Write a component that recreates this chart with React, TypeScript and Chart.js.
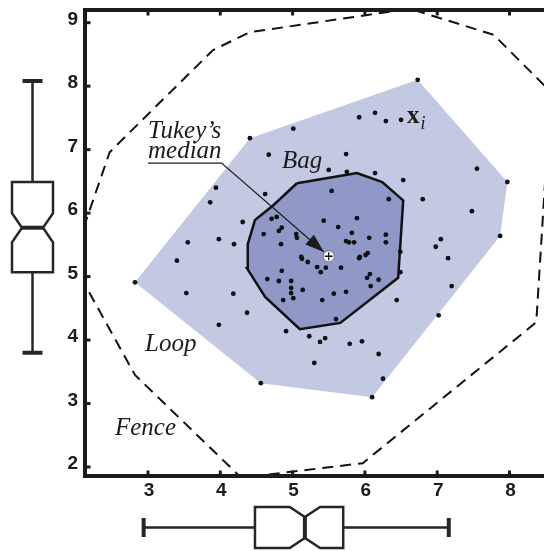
import React, { useEffect, useRef } from "react";
import { Chart, registerables } from "chart.js";

Chart.register(...registerables);

// Observations x_i
const obsX = [
  5.92, 6.14, 5.01, 4.41, 4.67, 5.74, 5.5, 5.75, 6.14, 3.94, 4.62, 5.54, 6.73, 6.29, 6.5, 6.53, 7.55, 7.97,
  6.33, 6.8, 7.48, 7.87, 6.06, 6.29, 6.29, 7.05, 6.98, 5.93, 6.01, 6.04, 6.49, 7.15, 6.49, 6.07, 6.03, 6.19,
  6.08, 7.2, 6.44, 7.02, 5.96, 6.19, 6.25, 6.1, 5.3, 4.56, 2.82, 3.55, 3.4, 3.53, 3.86, 4.71, 4.78, 4.31,
  5.43, 5.89, 4.85, 4.81, 5.63, 5.82, 4.6, 5.05, 5.06, 3.98, 4.19, 4.84, 5.74, 5.78, 5.85, 5.12, 5.13, 5.21,
  5.34, 5.46, 5.39, 5.67, 5.92, 4.85, 4.65, 4.81, 4.98, 4.98, 4.98, 5.01, 4.87, 5.14, 5.41, 5.57, 5.74, 4.18,
  4.37, 3.98, 5.6, 4.91, 5.23, 5.38, 5.45, 5.79,
];
const obsY = [
  7.51, 7.58, 7.33, 7.18, 6.92, 6.93, 6.68, 6.65, 6.63, 6.4, 6.3, 6.35, 8.1, 7.45, 7.47, 6.52, 6.7, 6.49,
  6.22, 6.22, 6.03, 5.64, 5.61, 5.66, 5.54, 5.59, 5.47, 5.31, 5.34, 5.37, 5.39, 5.29, 5.07, 5.04, 4.98, 4.95,
  4.85, 4.85, 4.63, 4.39, 3.98, 3.78, 3.39, 3.1, 3.64, 3.32, 4.91, 5.54, 5.25, 4.74, 6.17, 5.91, 5.94, 5.86,
  5.88, 5.92, 5.77, 5.72, 5.78, 5.69, 5.67, 5.67, 5.61, 5.59, 5.51, 5.51, 5.56, 5.54, 5.54, 5.31, 5.28, 5.23,
  5.15, 5.14, 5.07, 5.14, 5.29, 5.09, 4.96, 4.93, 4.93, 4.82, 4.74, 4.66, 4.63, 4.79, 4.63, 4.73, 4.76, 4.73,
  4.43, 4.24, 4.33, 4.14, 4.06, 3.97, 4.03, 3.94,
];

// Tukey's median (halfspace depth median)
const medianX = 5.5;
const medianY = 5.32;

// Bag: depth region holding half of the observations
const bagX = [5.06, 5.89, 6.24, 6.53, 6.46, 5.66, 5.1, 4.62, 4.37, 4.38, 4.48, 4.73];
const bagY = [6.47, 6.63, 6.49, 6.2, 4.98, 4.27, 4.17, 4.68, 5.13, 5.51, 5.89, 6.12];

// Loop: hull of the observations inside the fence
const loopX = [2.82, 4.41, 6.73, 7.97, 7.87, 6.1, 4.56];
const loopY = [4.91, 7.18, 8.1, 6.49, 5.64, 3.1, 3.32];

// Fence: bag inflated about the median
const fenceX = [1.95, 2.47, 3.9, 4.41, 6.62, 7.78, 8.57, 8.37, 5.97, 4.29, 2.82];
const fenceY = [5.24, 6.96, 8.57, 8.85, 9.22, 8.81, 7.91, 4.28, 2.06, 1.83, 3.45];

// Marginal notched box plots: whisker low, Q1, notch low, median, notch high, Q3, whisker high
const boxStatsX = [2.94, 4.48, 4.96, 5.17, 5.38, 5.7, 7.16];
const boxStatsY = [3.8, 5.07, 5.54, 5.77, 6.0, 6.49, 8.08];

// Axes
const xTickValues = [3, 4, 5, 6, 7, 8];
const xTickLabels = ["3", "4", "5", "6", "7", "8"];
const yTickValues = [2, 3, 4, 5, 6, 7, 8, 9];
const yTickLabels = ["2", "3", "4", "5", "6", "7", "8", "9"];
const X_MIN = 2.129;
const X_MAX = 8.477;
const Y_MIN = 1.858;
const Y_MAX = 9.2;

const INK = "#1d1a1a";
const SERIF = '"Liberation Serif", "Times New Roman", serif';
const SANS = '"Liberation Sans", Arial, sans-serif';

const toPoints = (xs: number[], ys: number[]) => xs.map((x, i) => ({ x, y: ys[i] }));
const closedRing = (xs: number[], ys: number[]) => {
  const p = toPoints(xs, ys);
  return [...p, p[0]];
};

// Thick frame on left, top and bottom with short inward tick marks
const framePlugin = {
  id: "frame",
  afterDatasetsDraw(chart: any) {
    const { ctx, chartArea: a, scales } = chart;
    const w = 4;
    ctx.save();
    ctx.fillStyle = INK;
    ctx.fillRect(a.left - w / 2, a.top - w / 2, w, a.bottom - a.top + w);
    ctx.fillRect(a.left - w / 2, a.top - w / 2, a.right - a.left + w, w);
    ctx.fillRect(a.left - w / 2, a.bottom - w / 2, a.right - a.left + w, w);
    for (const t of scales.x.ticks) {
      const px = scales.x.getPixelForValue(t.value);
      ctx.fillRect(px - 1.5, a.top + w / 2, 3, 3.5);
      ctx.fillRect(px - 1.5, a.bottom - w / 2 - 3.5, 3, 3.5);
    }
    for (const t of scales.y.ticks) {
      const py = scales.y.getPixelForValue(t.value);
      ctx.fillRect(a.left + w / 2, py - 1.5, 3.5, 3);
    }
    ctx.restore();
  },
};

// Labels and the arrow pointing to the median
const notesPlugin = {
  id: "notes",
  afterDatasetsDraw(chart: any) {
    const { ctx, scales } = chart;
    const X = (v: number) => scales.x.getPixelForValue(v);
    const Y = (v: number) => scales.y.getPixelForValue(v);
    ctx.save();
    ctx.fillStyle = INK;
    ctx.strokeStyle = INK;
    ctx.textBaseline = "alphabetic";
    ctx.textAlign = "left";
    ctx.font = `italic 25px ${SERIF}`;
    ctx.fillText("Tukey\u2019s", X(3.0), Y(7.183));
    ctx.fillText("median", X(3.0), Y(6.868));
    const medW = ctx.measureText("median").width;
    ctx.fillText("Bag", X(4.853), Y(6.711));
    ctx.fillText("Loop", X(2.959), Y(3.827));
    ctx.fillText("Fence", X(2.544), Y(2.504));

    // underline continuing into the arrow
    const ux0 = X(3.0);
    const uy = Y(6.789);
    const ux1 = ux0 + medW;
    const tipX = X(5.434);
    const tipY = Y(5.387);
    ctx.lineWidth = 1.2;
    ctx.beginPath();
    ctx.moveTo(ux0, uy);
    ctx.lineTo(ux1, uy);
    ctx.lineTo(tipX, tipY);
    ctx.stroke();
    const ang = Math.atan2(tipY - uy, tipX - ux1);
    const len = 19;
    const hw = 6.5;
    const bx = tipX - len * Math.cos(ang);
    const by = tipY - len * Math.sin(ang);
    ctx.beginPath();
    ctx.moveTo(tipX, tipY);
    ctx.lineTo(bx + hw * Math.sin(ang), by - hw * Math.cos(ang));
    ctx.lineTo(bx - hw * Math.sin(ang), by + hw * Math.cos(ang));
    ctx.closePath();
    ctx.fill();

    // x_i
    ctx.font = `bold 25px ${SERIF}`;
    const xl = X(6.582);
    const xb = Y(7.42);
    ctx.fillText("x", xl, xb);
    const xw = ctx.measureText("x").width;
    ctx.font = `italic 18px ${SERIF}`;
    ctx.fillText("i", xl + xw + 1, xb + 6);
    ctx.restore();
  },
};

function notchedBox(
  ctx: CanvasRenderingContext2D,
  px: number[],
  c: number,
  half: number,
  notch: number,
  cap: number,
  horizontal: boolean
) {
  const P = (u: number, v: number): [number, number] => (horizontal ? [u, v] : [v, u]);
  const [lo, q1, nLo, med, nHi, q3, hi] = px;
  const m = (u: number, v: number) => ctx.moveTo(...P(u, v));
  const l = (u: number, v: number) => ctx.lineTo(...P(u, v));
  ctx.fillStyle = "#ffffff";
  ctx.lineWidth = 2.5;
  ctx.lineJoin = "miter";
  ctx.beginPath();
  m(q1, c - half);
  l(nLo, c - half);
  l(med, c - half + notch);
  l(nHi, c - half);
  l(q3, c - half);
  l(q3, c + half);
  l(nHi, c + half);
  l(med, c + half - notch);
  l(nLo, c + half);
  l(q1, c + half);
  ctx.closePath();
  ctx.fill();
  ctx.stroke();
  // median
  ctx.lineWidth = 4;
  ctx.beginPath();
  m(med, c - half + notch);
  l(med, c + half - notch);
  ctx.stroke();
  // whiskers
  ctx.lineWidth = 2.5;
  ctx.beginPath();
  m(lo, c);
  l(q1, c);
  m(q3, c);
  l(hi, c);
  ctx.stroke();
  // caps
  ctx.lineWidth = 4;
  ctx.beginPath();
  m(lo, c - cap);
  l(lo, c + cap);
  m(hi, c - cap);
  l(hi, c + cap);
  ctx.stroke();
}

const boxPlugin = {
  id: "marginalBoxes",
  afterDraw(chart: any) {
    const { ctx, scales } = chart;
    ctx.save();
    ctx.strokeStyle = "#2a2424";
    notchedBox(ctx, boxStatsX.map((v) => scales.x.getPixelForValue(v)), 527.5, 20.5, 10, 9.5, true);
    notchedBox(ctx, boxStatsY.map((v) => scales.y.getPixelForValue(v)), 32.5, 20.5, 10, 10, false);
    ctx.restore();
  },
};

export default function App() {
  const ref = useRef<HTMLCanvasElement>(null);

  useEffect(() => {
    document.body.style.margin = "0";
    const tickFont = { family: SANS, size: 19, weight: "bold" as const };
    const chart = new Chart(ref.current as HTMLCanvasElement, {
      type: "scatter",
      data: {
        datasets: [
          {
            label: "points",
            data: toPoints(obsX, obsY),
            pointRadius: 2.4,
            pointBackgroundColor: "#111",
            pointBorderWidth: 0,
          },
          {
            label: "medianCross",
            data: [{ x: medianX, y: medianY }],
            pointStyle: "cross",
            pointRadius: 4,
            pointBorderColor: "#111",
            pointBorderWidth: 1.3,
          },
          {
            label: "median",
            data: [{ x: medianX, y: medianY }],
            pointStyle: "circle",
            pointRadius: 5.5,
            pointBackgroundColor: "#ffffff",
            pointBorderColor: "#666",
            pointBorderWidth: 0.8,
          },
          {
            type: "line",
            label: "fence",
            data: closedRing(fenceX, fenceY),
            borderColor: "#111",
            borderWidth: 2,
            borderDash: [11, 7],
            pointRadius: 0,
            fill: false,
            clip: 0,
          } as any,
          {
            type: "line",
            label: "bag",
            data: closedRing(bagX, bagY),
            borderColor: "#111",
            borderWidth: 2.5,
            backgroundColor: "#9098c8",
            pointRadius: 0,
            fill: "shape",
            clip: 0,
          } as any,
          {
            type: "line",
            label: "loop",
            data: closedRing(loopX, loopY),
            borderWidth: 0,
            borderColor: "rgba(0,0,0,0)",
            backgroundColor: "#c4c9e3",
            pointRadius: 0,
            fill: "shape",
            clip: 0,
          } as any,
        ],
      },
      options: {
        responsive: false,
        animation: false,
        devicePixelRatio: 1,
        events: [],
        layout: { autoPadding: false, padding: { top: 10, right: 0, left: 0, bottom: 0 } },
        plugins: { legend: { display: false }, tooltip: { enabled: false } },
        scales: {
          x: {
            type: "linear",
            min: X_MIN,
            max: X_MAX,
            grid: { display: false, drawTicks: false },
            border: { display: false },
            afterBuildTicks: (s: any) => {
              s.ticks = xTickValues.map((value) => ({ value }));
            },
            afterFit: (s: any) => {
              s.height = 75;
              s.paddingLeft = 0;
              s.paddingRight = 0;
            },
            ticks: {
              font: tickFont,
              color: INK,
              padding: 3,
              labelOffset: 1,
              maxRotation: 0,
              autoSkip: false,
              callback: (v: any) => xTickLabels[xTickValues.indexOf(Number(v))] ?? "",
            },
          },
          y: {
            type: "linear",
            min: Y_MIN,
            max: Y_MAX,
            grid: { display: false, drawTicks: false },
            border: { display: false },
            afterBuildTicks: (s: any) => {
              s.ticks = yTickValues.map((value) => ({ value }));
            },
            afterFit: (s: any) => {
              s.width = 85;
              s.paddingTop = 0;
              s.paddingBottom = 0;
            },
            ticks: {
              font: tickFont,
              color: INK,
              padding: 7,
              labelOffset: -3,
              autoSkip: false,
              callback: (v: any) => yTickLabels[yTickValues.indexOf(Number(v))] ?? "",
            },
          },
        },
      },
      plugins: [notesPlugin, framePlugin, boxPlugin],
    });
    return () => chart.destroy();
  }, []);

  return (
    <div style={{ width: 544, height: 551, background: "#ffffff", overflow: "hidden" }}>
      <canvas ref={ref} width={544} height={551} style={{ display: "block" }} />
    </div>
  );
}
